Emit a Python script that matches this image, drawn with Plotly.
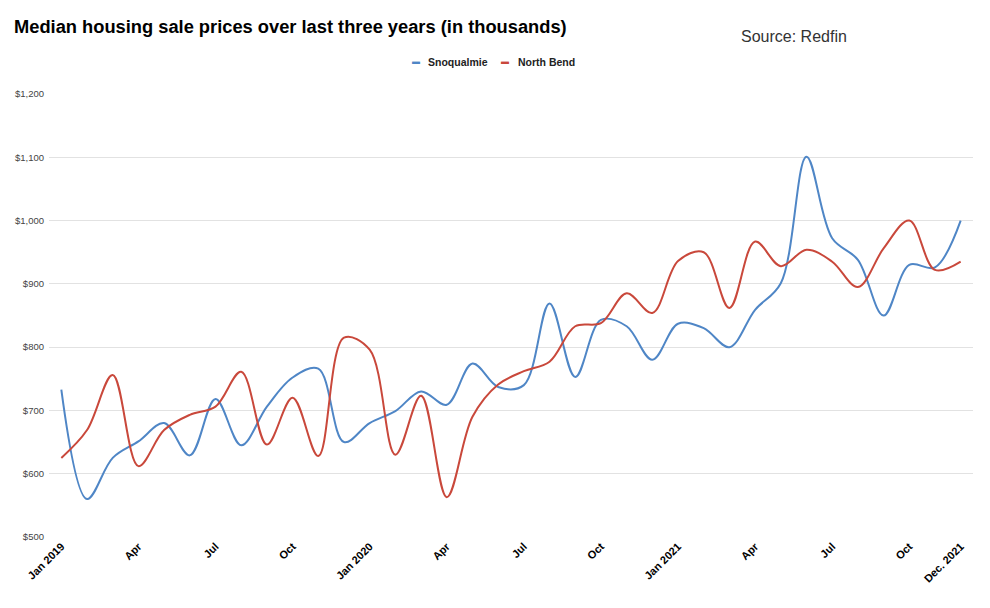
import plotly.graph_objects as go

months = list(range(36))
tick_positions = [0, 3, 6, 9, 12, 15, 18, 21, 24, 27, 30, 33, 35]
tick_labels = ["Jan 2019", "Apr", "Jul", "Oct", "Jan 2020", "Apr", "Jul", "Oct",
               "Jan 2021", "Apr", "Jul", "Oct", "Dec. 2021"]

snoqualmie = [733, 560, 625, 651, 680, 629, 718, 645, 706, 752, 766, 650,
              680, 699, 730, 709, 774, 737, 740, 869, 753, 843, 833, 780,
              837, 830, 800, 859, 901, 1101, 972, 938, 850, 930, 926, 1000]
north_bend = [625, 669, 756, 612, 669, 693, 706, 761, 646, 720, 628, 815,
              796, 630, 723, 563, 690, 741, 762, 777, 833, 838, 885, 854,
              936, 950, 862, 967, 928, 954, 935, 895, 956, 1000, 922, 935]

yticks = [500, 600, 700, 800, 900, 1000, 1100, 1200]
ytick_labels = ["$500", "$600", "$700", "$800", "$900", "$1,000", "$1,100", "$1,200"]

blue = "#4f86c6"
red = "#c9483b"

# page has an 8px body margin, so figure coordinates are screen minus 8
W, H = 982, 600
L, R, T, B = 41, 17, 86, 71
pw, ph = W - L - R, H - T - B

def px_x(x):
    return (x - 8 - L) / pw

def px_y(y):
    return (H - B - (y - 8)) / ph

fig = go.Figure()
fig.add_trace(go.Scatter(x=months, y=snoqualmie, mode="lines", name="Snoqualmie",
                         line=dict(color=blue, width=2, shape="spline", smoothing=1)))
fig.add_trace(go.Scatter(x=months, y=north_bend, mode="lines", name="North Bend",
                         line=dict(color=red, width=2, shape="spline", smoothing=1)))

legend_font = dict(size=10.5, color="#222", weight="bold")

fig.update_layout(
    width=W, height=H,
    margin=dict(l=L, r=R, t=T, b=B, autoexpand=False),
    paper_bgcolor="white", plot_bgcolor="white",
    showlegend=False,
    font=dict(family="Arial, Liberation Sans, sans-serif", color="#222"),
    title=dict(text="<b>Median housing sale prices over last three years (in thousands)</b>",
               xref="container", yref="container", x=(14 - 8) / W, xanchor="left",
               y=1 - (27 - 8) / H, yanchor="middle",
               font=dict(size=18.3, color="black")),
    xaxis=dict(range=[-0.48, 35.48], tickmode="array", tickvals=tick_positions,
               ticktext=tick_labels, tickangle=-45, showgrid=False, zeroline=False,
               showline=False, ticks="", automargin=False,
               tickfont=dict(size=11, color="black", weight="bold")),
    yaxis=dict(range=[500, 1200], tickmode="array", tickvals=yticks, ticktext=ytick_labels,
               showgrid=True, gridcolor="#e2e2e2", gridwidth=1, zeroline=False,
               showline=False, ticks="", ticklabelstandoff=4, automargin=False,
               tickfont=dict(size=9.5, color="#444")),
    annotations=[
        dict(text="Source: Redfin", xref="paper", yref="paper",
             x=px_x(739), xanchor="left", y=px_y(37), yanchor="middle",
             showarrow=False, font=dict(size=16, color="#333")),
        dict(text="<span style='color:%s'>▬</span>" % blue, xref="paper", yref="paper",
             x=px_x(410), xanchor="left", y=px_y(62), yanchor="middle",
             showarrow=False, font=dict(size=8)),
        dict(text="Snoqualmie", xref="paper", yref="paper",
             x=px_x(426), xanchor="left", y=px_y(62), yanchor="middle",
             showarrow=False, font=legend_font),
        dict(text="<span style='color:%s'>▬</span>" % red, xref="paper", yref="paper",
             x=px_x(499), xanchor="left", y=px_y(62), yanchor="middle",
             showarrow=False, font=dict(size=8)),
        dict(text="North Bend", xref="paper", yref="paper",
             x=px_x(516), xanchor="left", y=px_y(62), yanchor="middle",
             showarrow=False, font=legend_font),
    ],
)

fig.write_html("out.html")
